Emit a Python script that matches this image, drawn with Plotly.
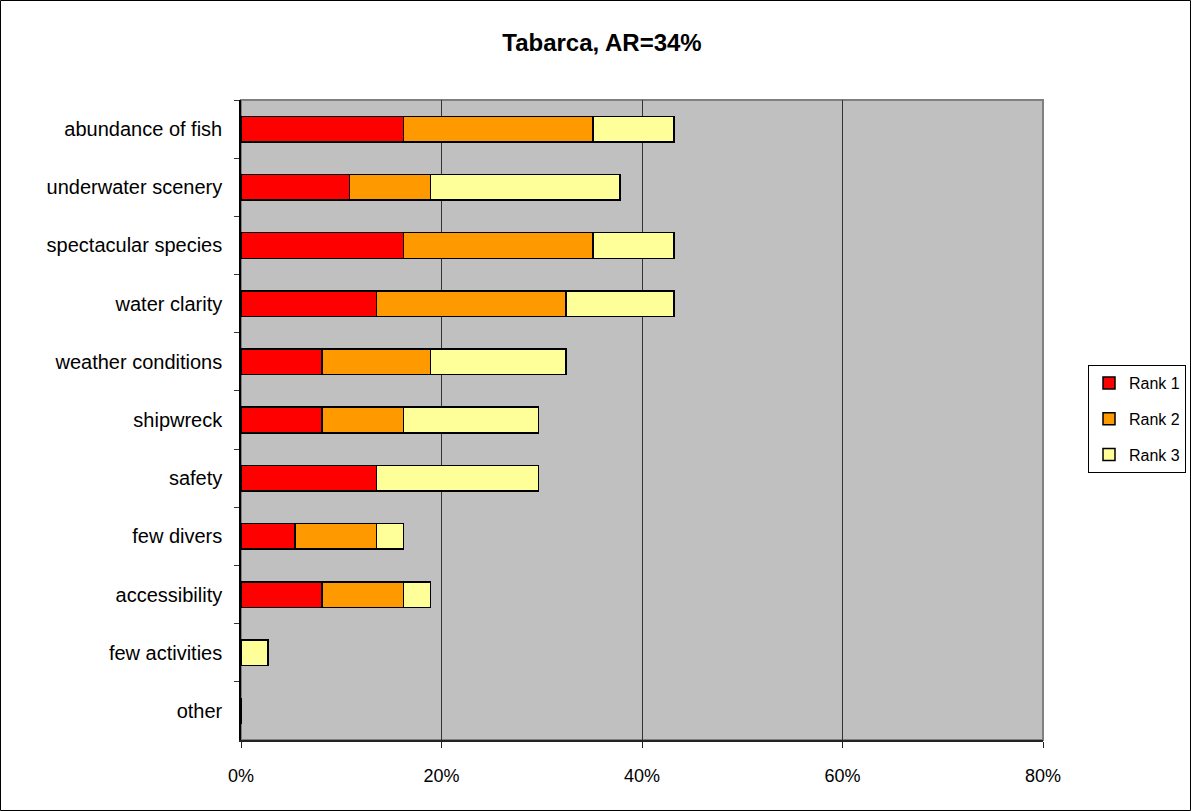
import plotly.graph_objects as go

categories = ["abundance of fish", "underwater scenery", "spectacular species", "water clarity",
              "weather conditions", "shipwreck", "safety", "few divers", "accessibility",
              "few activities", "other"]
rank1 = [16.2, 10.8, 16.2, 13.5, 8.1, 8.1, 13.5, 5.4, 8.1, 0, 0]
rank2 = [18.9, 8.1, 18.9, 18.9, 10.8, 8.1, 0, 8.1, 8.1, 0, 0]
rank3 = [8.1, 18.9, 8.1, 10.8, 13.5, 13.5, 16.2, 2.7, 2.7, 2.7, 0]
series_names = ["Rank 1", "Rank 2", "Rank 3"]
colors = ["#FF0000", "#FF9900", "#FFFF99"]
x_ticks = [0, 20, 40, 60, 80]

W, H = 1191, 811
L, R, T, B = 241, 148, 100, 71
pw, ph = W - L - R, H - T - B

fig = go.Figure()
for i, (name, vals, col) in enumerate(zip(series_names, [rank1, rank2, rank3], colors)):
    fig.add_trace(go.Bar(
        y=categories, x=vals, name=name, orientation="h",
        marker=dict(color=col, line=dict(color="black", width=1.5)),
        width=0.44, legendgroup=f"g{i}",
    ))

font = "Liberation Sans, Arial, sans-serif"
fig.update_layout(
    width=W, height=H, autosize=False,
    margin=dict(l=L, r=R, t=T, b=B, autoexpand=False),
    barmode="stack",
    paper_bgcolor="white",
    plot_bgcolor="#C0C0C0",
    font=dict(family=font, size=17, color="black"),
    title=dict(text="<b>Tabarca, AR=34%</b>", x=602 / W, xanchor="center",
               y=1 - 43 / H, yanchor="middle", font=dict(size=24, family=font)),
    legend=dict(xref="container", yref="container",
                x=1088 / W, xanchor="left", y=1 - 365 / H, yanchor="top",
                bordercolor="black", borderwidth=1, bgcolor="white",
                font=dict(size=16, family=font), tracegroupgap=12, itemwidth=30,
                traceorder="grouped"),
    xaxis=dict(range=[0, 80], tickvals=x_ticks, ticktext=[f"{v}%" for v in x_ticks],
               showgrid=True, gridcolor="#333333", gridwidth=1, zeroline=False,
               showline=True, linecolor="#222222", linewidth=2,
               ticks="outside", ticklen=6, tickcolor="#222222",
               tickfont=dict(size=18), ticklabelstandoff=12),
    yaxis=dict(autorange="reversed", type="category", tickson="boundaries",
               showgrid=False, showline=True, linecolor="black", linewidth=1.5,
               ticks="outside", ticklen=5, tickcolor="#333333",
               tickfont=dict(size=20), ticklabelstandoff=13),
    shapes=[
        dict(type="rect", xref="paper", yref="paper", x0=0, x1=1, y0=0, y1=1,
             line=dict(color="#808080", width=2), layer="below"),
        dict(type="rect", xref="paper", yref="paper",
             x0=(0.5 - L) / pw, x1=(W - 0.5 - L) / pw,
             y0=(H - B - (H - 0.5)) / ph, y1=(H - B - 0.5) / ph,
             line=dict(color="black", width=1)),
    ],
)
fig.write_html("out.html",
               config={"responsive": False, "displayModeBar": False},
               default_width="1191px", default_height="811px",
               post_script="document.body.style.margin='0';document.body.style.overflow='hidden';")
